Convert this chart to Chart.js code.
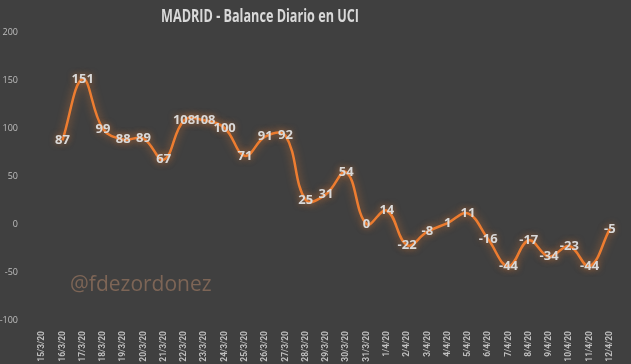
<!DOCTYPE html>
<html>
<head>
<meta charset="utf-8">
<script src="https://cdn.jsdelivr.net/npm/chart.js@4/dist/chart.umd.min.js"></script>
<style>
  html, body { margin: 0; padding: 0; background: #404040; }
  .chart-wrap { width: 631px; height: 364px; position: relative; }
</style>
</head>
<body>
<div class="chart-wrap"><canvas id="c"></canvas></div>
<script>
const days = ["15/3/20", "16/3/20", "17/3/20", "18/3/20", "19/3/20", "20/3/20", "21/3/20", "22/3/20",
  "23/3/20", "24/3/20", "25/3/20", "26/3/20", "27/3/20", "28/3/20", "29/3/20", "30/3/20", "31/3/20",
  "1/4/20", "2/4/20", "3/4/20", "4/4/20", "5/4/20", "6/4/20", "7/4/20", "8/4/20", "9/4/20", "10/4/20",
  "11/4/20", "12/4/20"];
const balance = [null, 87, 151, 99, 88, 89, 67, 108, 108, 100, 71, 91, 92, 25, 31, 54, 0,
  14, -22, -8, 1, 11, -16, -44, -17, -34, -23, -44, -5];
const yTicks = [-100, -50, 0, 50, 100, 150, 200];
const title = "MADRID - Balance Diario en UCI";
const watermark = "@fdezordonez";

const bgText = {
  id: "bgText",
  beforeDraw(chart) {
    const ctx = chart.ctx;
    ctx.save();
    ctx.fillStyle = "#404040";
    ctx.fillRect(0, 0, chart.width, chart.height);
    // title: bold face, squeezed to the reference width
    ctx.fillStyle = "#d9d9d9";
    ctx.font = "bold 17px 'Open Sans'";
    ctx.textAlign = "center";
    ctx.textBaseline = "middle";
    const w = ctx.measureText(title).width;
    ctx.save();
    ctx.translate(260, 17);
    ctx.scale(198 / w, 1);
    ctx.fillText(title, 0, 0);
    ctx.restore();
    ctx.fillStyle = "#7d6556";
    ctx.font = "21px 'Open Sans'";
    ctx.textAlign = "left";
    ctx.fillText(watermark, 70, 285);
    ctx.restore();
  }
};

const glow = {
  id: "glow",
  beforeDatasetDraw(chart) {
    chart.ctx.save();
    chart.ctx.shadowColor = "rgba(237,125,49,0.7)";
    chart.ctx.shadowBlur = 8;
  },
  afterDatasetDraw(chart) {
    chart.ctx.restore();
  }
};

const valueLabels = {
  id: "valueLabels",
  afterDatasetsDraw(chart) {
    const ctx = chart.ctx;
    const meta = chart.getDatasetMeta(0);
    ctx.save();
    ctx.font = "bold 13px 'Open Sans'";
    ctx.textAlign = "center";
    ctx.textBaseline = "middle";
    ctx.fillStyle = "#d9d9d9";
    ctx.shadowColor = "rgba(237,125,49,0.5)";
    ctx.shadowBlur = 6;
    meta.data.forEach((pt, i) => {
      const v = balance[i];
      if (v === null) return;
      ctx.fillText(String(v), pt.x, pt.y);
    });
    ctx.restore();
  }
};

new Chart(document.getElementById("c"), {
  type: "line",
  data: {
    labels: days,
    datasets: [{
      data: balance,
      borderColor: "#ED7D31",
      borderWidth: 2.5,
      pointRadius: 0,
      tension: 0.4,
      spanGaps: false
    }]
  },
  options: {
    responsive: true,
    maintainAspectRatio: false,
    animation: false,
    layout: { padding: { top: 32, right: 11, bottom: 0, left: 0 } },
    plugins: { legend: { display: false }, tooltip: { enabled: false } },
    scales: {
      x: {
        offset: true,
        grid: { display: false },
        border: { display: false },
        ticks: {
          color: "#bfbfbf",
          font: { family: "Roboto", size: 8.5, weight: "bold" },
          minRotation: 90, maxRotation: 90,
          autoSkip: false,
          padding: 3
        },
        afterFit(s) { s.height = 44; }
      },
      y: {
        min: -100, max: 200,
        grid: { display: false },
        border: { display: false },
        afterBuildTicks(s) { s.ticks = yTicks.map(v => ({ value: v })); },
        ticks: {
          color: "#bfbfbf",
          font: { family: "'Open Sans'", size: 9 },
          padding: 6
        },
        afterFit(s) { s.width = 32; }
      }
    }
  },
  plugins: [bgText, glow, valueLabels]
});
</script>
</body>
</html>
